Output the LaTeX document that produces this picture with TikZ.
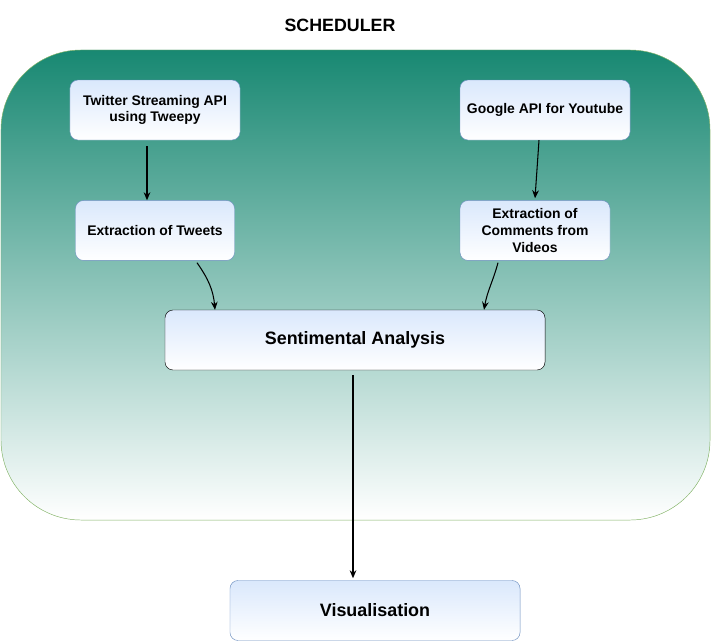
\documentclass[tikz,border=0pt]{standalone}
\usepackage{fontspec}
\setmainfont{Liberation Sans}
\usetikzlibrary{arrows.meta,positioning}
\definecolor{schedteal}{RGB}{24,136,114}
\definecolor{schedline}{RGB}{130,179,102}
\definecolor{boxblue}{RGB}{218,232,252}
\definecolor{boxline}{RGB}{108,142,191}

\begin{document}
\begin{tikzpicture}[x=0.03cm, y=-0.03cm, every node/.style={font=\bfseries\fontsize{11.9}{14.3}\selectfont},
		box/.style={draw=boxline, top color=boxblue, bottom color=white, rounded corners=0.24cm, align=center, minimum height=1.8cm, inner sep=1pt},
		bigbox/.style={box, font=\bfseries\fontsize{15.3}{18}\selectfont},
		flow/.style={-{Stealth[length=2.4mm, width=2mm]}, line width=0.9pt, black}]
			\useasboundingbox (0,0) rectangle (711,641);
			
			\node[draw=schedline, top color=schedteal, bottom color=white, rounded corners=2.4cm, minimum width=21.27cm, minimum height=14.1cm] (sched) at (355.5,285) {};
			\node[font=\bfseries\fontsize{15.2}{18}\selectfont] (title) at (340,25) {SCHEDULER};
			
			\node[box, minimum width=5.1cm] (tw) at (155,110) {Twitter Streaming API\\using Tweepy};
			\node[box, minimum width=5.1cm] (yt) at (545,110) {Google API for Youtube};
			\node[box, minimum width=4.77cm, below=1.8cm of tw] (tweets) {Extraction of Tweets};
			\node[box, minimum width=4.5cm, below=1.8cm of yt, xshift=-0.3cm] (comments) {Extraction of\\Comments from\\Videos};
			
			\node[bigbox, draw=black, minimum width=11.4cm] (sa) at (355,340) {Sentimental Analysis};
			\node[bigbox, minimum width=8.7cm, below=6.3cm of sa, xshift=0.6cm] (vis) {Visualisation};
			
			\draw[flow] ([xshift=-0.24cm, yshift=-0.18cm]tw.south) -- ([xshift=-0.24cm]tweets.north);
			\draw[flow] ([xshift=-0.18cm]yt.south) -- ([yshift=0.06cm]comments.north);
			\draw[flow] ([xshift=1.26cm, yshift=-0.06cm]tweets.south) to[out=-55, in=95] ([xshift=-4.2cm]sa.north);
			\draw[flow] ([xshift=-1.11cm, yshift=-0.06cm]comments.south) to[out=-105, in=80] ([xshift=3.87cm]sa.north);
			\draw[flow] ([xshift=-0.06cm, yshift=-0.15cm]sa.south) -- ([xshift=-0.66cm, yshift=0.06cm]vis.north);
		\end{tikzpicture}
\end{document}
